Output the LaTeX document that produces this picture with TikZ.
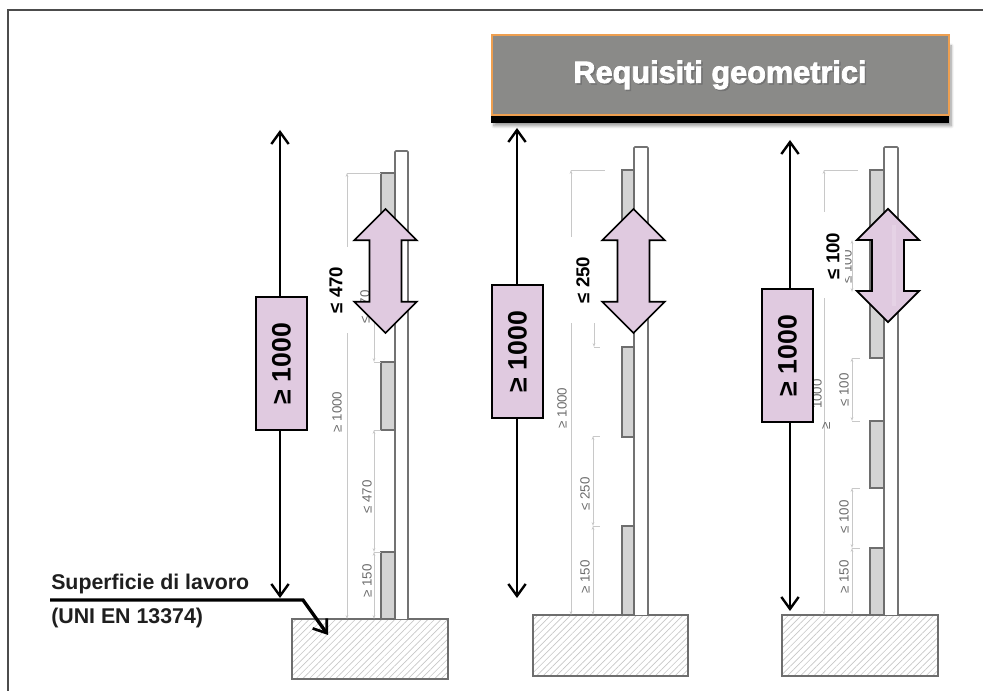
\documentclass[tikz,border=0pt]{standalone}
\usepackage{fontspec}
\setmainfont{Liberation Sans}
\newfontfamily\titlefont{Liberation Sans Bold}[FakeBold=2.5]
\usetikzlibrary{arrows.meta,patterns.meta,shapes.arrows,shadows.blur}
\definecolor{lilla}{HTML}{E0CAE0}
\definecolor{grigio}{HTML}{8A8A88}
\definecolor{arancio}{HTML}{EE9F50}
\definecolor{muro}{HTML}{6E6E6E}
\definecolor{quota}{HTML}{C8C8C8}
\tikzset{
	frecciona/.style={line width=2.1pt,{Straight Barb[length=9pt,width=13pt,line width=1.8pt]}-{Straight Barb[length=9pt,width=13pt,line width=1.8pt]}},
	scatola/.style={draw=black,line width=1.3pt,fill=lilla,rotate=90,minimum width=100pt,minimum height=38.5pt,inner sep=0pt,font=\bfseries\fontsize{20}{20}\selectfont},
	doppia/.style={double arrow,draw=black,line width=1.3pt,fill=lilla,rotate=90,double arrow head extend=11.4pt,inner xsep=0pt,inner ysep=11.4pt},
	etichetta/.style={fill=white,rotate=90,inner sep=0pt,minimum width=64pt,minimum height=20pt,font=\bfseries\fontsize{14}{14}\selectfont},
	piccolo/.style={rotate=90,text=black!58,inner sep=0pt,font=\fontsize{10}{10}\selectfont},
	lastra/.style={draw=muro,line width=1pt,fill=black!17},
	base/.style={draw=muro,line width=1.3pt,pattern={Lines[angle=45,distance=3.5pt,line width=.5pt]},pattern color=black!22},
	pilastro/.style={draw=black!55,line width=1.2pt,fill=white,rounded corners=.8pt},
	quotatura/.style={draw=quota,line width=.6pt},
	freccina/.style={quotatura,{Stealth[length=3pt,width=2pt]}-{Stealth[length=3pt,width=2pt]}}
}
\begin{document}
\begin{tikzpicture}[x=.75pt,y=-.75pt]
	\useasboundingbox (0,0) rectangle (983,691);
	% cornice
	\draw[black!70,line width=1pt] (983,10) -- (8,10) -- (8,691);
	% testata
	\node (ombra) [fill=black,blur shadow={shadow xshift=2pt,shadow yshift=-2pt,shadow blur steps=8},minimum width=343pt,minimum height=60pt,anchor=north west,inner sep=0pt] at (491,43) {};
	\node (testata) [draw=arancio,line width=1.5pt,fill=grigio,minimum width=343pt,minimum height=60pt,anchor=north west,inner sep=0pt] at (491,34) {};
	\node (ombratesto) [text=black!55,font=\titlefont\fontsize{23}{23}\selectfont] at (721.5,76.5) {Requisiti geometrici};
	\node (titolo) [text=white,font=\titlefont\fontsize{23}{23}\selectfont] at (720,75) {Requisiti geometrici};
	% prima colonna
	\draw[base] (292,619) rectangle (448,679);
	\draw[pilastro] (395,619) -- (395,151) -- (408,151) -- (408,619);
	\foreach \ya/\yb in {173/300,362/430,552/619}
		\draw[lastra] (381,\ya) rectangle (395,\yb);
	\draw[quotatura] (347,173) -- (381,173);
	\draw[freccina] (347,173) -- (347,619);
	\draw[freccina] (374,300) -- (374,362);
	\draw[quotatura] (374,362) -- (381,362) (374,430) -- (381,430) (374,552) -- (381,552);
	\draw[freccina] (374,430) -- (374,552);
	\draw[freccina] (374,552) -- (374,619);
	\node (q1a) [piccolo] at (337,412) {≥ 1000};
	\node (q1b) [piccolo] at (367,497) {≤ 470};
	\node (q1c) [piccolo] at (367,581) {≥ 150};
	\node (q1d) [piccolo] at (365,307) {≤ 470};
	\node (et1) [etichetta] at (336,290) {≤ 470};
	\coordinate (a1) at (280,130);
	\coordinate (b1) at (280,598);
	\path[frecciona] (a1) edge (b1);
	\node (box1) [scatola] at (281.5,363.5) {≥ 1000};
	\node (dop1) [doppia,minimum height=93pt] at (385.5,271) {};
	% seconda colonna
	\draw[base] (533,615) rectangle (688,676);
	\draw[pilastro] (634,615) -- (634,147) -- (648,147) -- (648,615);
	\foreach \ya/\yb in {170/290,347/437,526/615}
		\draw[lastra] (622,\ya) rectangle (634,\yb);
	\draw[quotatura] (571,170) -- (605,170);
	\draw[freccina] (571,170) -- (571,615);
	\draw[freccina] (594,290) -- (594,347);
	\draw[quotatura] (594,347) -- (600,347) (593,436) -- (600,436) (593,526) -- (600,526);
	\draw[freccina] (593,436) -- (593,526);
	\draw[freccina] (593,526) -- (593,615);
	\node (q2a) [piccolo] at (562,408) {≥ 1000};
	\node (q2b) [piccolo] at (585,494) {≤ 250};
	\node (q2c) [piccolo] at (585,577) {≥ 150};
	\node (et2) [etichetta,minimum height=30pt] at (583,280) {≤ 250};
	\coordinate (a2) at (517,128);
	\coordinate (b2) at (517,598);
	\path[frecciona] (a2) edge (b2);
	\node (box2) [scatola] at (517.5,351.5) {≥ 1000};
	\node (dop2) [doppia,minimum height=93pt] at (633.5,271) {};
	% terza colonna
	\draw[base] (782,615) rectangle (938,676);
	\draw[pilastro] (884,615) -- (884,147) -- (898,147) -- (898,615);
	\foreach \ya/\yb in {170/358,421/488,548/615}
		\draw[lastra] (870,\ya) rectangle (884,\yb);
	\draw[quotatura] (824,170) -- (858,170);
	\draw[freccina] (824,170) -- (824,615);
	\draw[freccina] (852,240) -- (852,292);
	\draw[freccina] (852,358) -- (852,421);
	\draw[freccina] (852,488) -- (852,548);
	\draw[freccina] (852,548) -- (852,615);
	\draw[quotatura] (852,358) -- (860,358) (852,421) -- (860,421) (852,488) -- (860,488) (852,548) -- (860,548);
	\node (q3a) [piccolo] at (817,394) {1000};
	\node (q3a2) [piccolo] at (826,426) {≥};
	\node (q3b) [piccolo] at (844,390) {≤ 100};
	\node (q3c) [piccolo] at (844,517) {≤ 100};
	\node (q3d) [piccolo] at (844,577) {≥ 150};
	\node (q3e) [piccolo] at (847,267) {≤ 100};
	\node (et3) [etichetta,minimum width=64pt,minimum height=27pt] at (827,255) {};
	\node (et3t) [rotate=90,inner sep=0pt,font=\bfseries\fontsize{14}{14}\selectfont] at (833,256) {≤ 100};
	\coordinate (a3) at (790,140);
	\coordinate (b3) at (790,611);
	\path[frecciona] (a3) edge (b3);
	\node (box3) [scatola] at (787.5,355.5) {≥ 1000};
	\node (dop3) [doppia,minimum height=85pt] at (888,265.5) {};
	\fill[lilla!85!white] (892,225) rectangle (896,306);
	% superficie di lavoro
	\node (sup) [anchor=base west,inner sep=0pt,text=black!88,font=\bfseries\fontsize{16}{16}\selectfont] at (51,590) {Superficie di lavoro};
	\node (uni) [anchor=base west,inner sep=0pt,text=black!88,font=\bfseries\fontsize{16}{16}\selectfont] at (51,624) {(UNI EN 13374)};
	\coordinate (s0) at (50,600);
	\coordinate (s1) at (303,600);
	\coordinate (s2) at (328,635);
	\draw[line width=2.5pt,-{Straight Barb[length=9pt,width=13pt,line width=2pt]}] (s0) -- (s1) -- (s2);
\end{tikzpicture}
\end{document}
